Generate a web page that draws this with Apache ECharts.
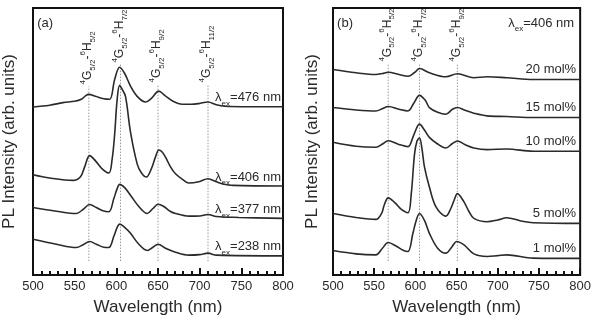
<!DOCTYPE html>
<html><head><meta charset="utf-8">
<script src="https://cdn.jsdelivr.net/npm/echarts@6/dist/echarts.min.js"></script>
<style>html,body{margin:0;padding:0;background:#fff}#c{width:594px;height:321px}</style>
</head><body><div id="c"></div>
<script>
const FONT = "'Liberation Sans', Arial, sans-serif";
const INK = '#2a2a2a';

// ---------- Panel (a): excitation wavelengths ----------
const exNamesA = ['476', '406', '377', '238'];
const ex476 = [[500,169.3],[520,171],[536,173.7],[550,175],[558,177],[563,180.5],[567,182],[575,180],[585,177.5],[592,177],[598,197],[604,209.3],[610,203],[617,190.3],[625,180],[635,174.3],[642,178],[651,185.3],[658,181],[668,175],[679,172],[690,172],[699,172.7],[710,174.3],[720,171.5],[730,170],[760,169.5],[800,169.5]];
const ex406 = [[500,101],[520,97.7],[548,95.3],[557,99],[562,109],[568,120.3],[575,115],[583,107],[591,102.7],[595,117],[598,142],[601,177],[604,191],[607,187],[611,180],[617,144],[625,112],[630,103],[636,98.7],[642,107],[647,119],[651,126],[655,124],[659,118.7],[665,109],[671,102],[680,96],[687,92.7],[699,94],[710,97],[720,94],[727,92],[740,90.3],[800,89.7]];
const ex377 = [[500,68],[528,64.3],[552,62],[560,66],[568,71],[576,68],[583,65],[591,63.7],[597,77],[601,87],[604,91.3],[610,88],[617,80.3],[627,69],[637,62],[644,67],[650,71.3],[657,69],[665,64],[671,62],[687,59.3],[700,59.5],[710,61],[720,59],[747,58],[800,57]];
const ex238 = [[500,36],[528,31],[552,27.7],[560,30.5],[568,33.7],[576,31],[585,28],[591,27.7],[597,39],[601,48],[604,51.3],[610,48],[617,42],[627,31],[637,24.7],[644,28],[650,31],[659,27],[671,23],[687,20],[700,20.5],[710,22],[720,20],[800,19.3]];
const seriesA = [ex476, ex406, ex377, ex238];
const transA = [567, 605, 650, 710];
const transLabelsA = ['5/2', '7/2', '9/2', '11/2'];
const transTopA = [190, 212, 192, 192];

// ---------- Panel (b): concentrations ----------
const concNames = ['20 mol%', '15 mol%', '10 mol%', '5 mol%', '1 mol%'];
const c20 = [[500,207],[528,203.7],[552,202],[560,203],[567,204.3],[580,202],[591,200.3],[599,204],[605,208],[617,203.7],[637,199.7],[651,202.7],[671,198.7],[687,199.7],[711,198.7],[743,197],[800,197]];
const c15 = [[500,168.7],[528,166.3],[552,165.3],[560,167.5],[567,169.7],[580,167],[591,165.3],[598,173],[605,181],[612,176],[617,168.7],[627,164],[637,162],[645,167],[651,168.7],[660,166],[671,163],[687,160.3],[711,159.7],[743,158.7],[800,158.7]];
const c10 = [[500,133.7],[528,129.7],[552,128.7],[560,132],[567,135.3],[580,131.5],[591,129.3],[598,141],[605,152],[611,146],[617,138.7],[627,132],[637,128],[645,132.5],[651,135],[660,131.5],[671,128],[687,126.3],[711,127],[743,124.7],[800,124.7]];
const c5 = [[500,62],[528,58],[552,56],[559,62],[562,70],[567,77.7],[575,73],[583,66],[591,62.7],[595,82],[599,122],[602,135],[605,138],[608,127],[611,109],[617,88.7],[625,68.7],[637,59.3],[643,67],[647,75.3],[651,82],[659,73.7],[665,64],[671,57],[687,53.7],[700,55.5],[711,57.7],[727,54.7],[743,52.7],[800,52]];
const c1 = [[500,24.7],[528,21.3],[552,20.3],[560,27],[567,32.7],[577,29],[585,25],[591,23.7],[597,42],[601,55],[605,62],[611,55],[617,42],[627,27],[637,22],[644,28],[650,33.7],[659,30.3],[671,21.3],[687,18.7],[700,19.5],[711,20.3],[743,17],[800,16.7]];
const seriesB = [c20, c15, c10, c5, c1];
const transB = [567, 605, 651];
const transLabelsB = ['5/2', '7/2', '9/2'];
const transTopB = [213, 213, 213];
const dotBottom = 14;

const xMin = 500, xMax = 800, xStep = 50;

const chart = echarts.init(document.getElementById('c'), null, {renderer: 'canvas'});

function mkX(gi) {
  return {
    gridIndex: gi, type: 'value', min: xMin, max: xMax, interval: xStep,
    name: 'Wavelength (nm)', nameLocation: 'middle', nameGap: 24,
    nameTextStyle: {fontFamily: FONT, fontSize: 17, color: INK},
    axisLine: {show: true, lineStyle: {color: '#111', width: 2}},
    axisTick: {show: true, inside: true, length: 7, lineStyle: {color: '#111', width: 2}},
    minorTick: {show: true, splitNumber: 5, length: 4, lineStyle: {color: '#111', width: 2}},
    axisLabel: {fontFamily: FONT, fontSize: 13, color: INK, margin: 5},
    splitLine: {show: false}
  };
}
function mkY(gi, gap) {
  return {
    gridIndex: gi, type: 'value', min: 0, max: 269,
    name: 'PL Intensity (arb. units)', nameLocation: 'middle', nameGap: gap,
    nameTextStyle: {fontFamily: FONT, fontSize: 17, color: INK},
    axisLine: {show: true, lineStyle: {color: '#111', width: 2}},
    axisTick: {show: false}, axisLabel: {show: false}, splitLine: {show: false}
  };
}

const series = [];
function addDots(gi, list, tops) {
  list.forEach((w, i) => {
    series.push({type: 'line', xAxisIndex: gi, yAxisIndex: gi, data: [[w, dotBottom], [w, tops[i]]],
      symbol: 'none', silent: true, z: 1,
      lineStyle: {color: '#9a9a9a', width: 1, type: [1.5, 1.5]}});
  });
}
addDots(0, transA, transTopA);
addDots(1, transB, transTopB);
seriesA.forEach((d) => series.push({type: 'line', xAxisIndex: 0, yAxisIndex: 0, data: d, symbol: 'none', smooth: 0.35, z: 3,
  lineStyle: {color: INK, width: 1.6}}));
seriesB.forEach((d) => series.push({type: 'line', xAxisIndex: 1, yAxisIndex: 1, data: d, symbol: 'none', smooth: 0.35, z: 3,
  lineStyle: {color: INK, width: 1.6}}));

chart.setOption({
  animation: false,
  grid: [
    {left: 33, top: 8, width: 250, height: 269, show: true, borderColor: '#111', borderWidth: 2},
    {left: 333, top: 8, width: 249, height: 269, show: true, borderColor: '#111', borderWidth: 2}
  ],
  xAxis: [mkX(0), mkX(1)],
  yAxis: [mkY(0, 15), mkY(1, 12)],
  series: series
});

// ---------- text annotations anchored in data coordinates ----------
const graphics = [];
function P(gi, x, y) { return chart.convertToPixel({xAxisIndex: gi, yAxisIndex: gi}, [x, y]); }
const richBase = {
  n: {fontFamily: FONT, fontSize: 13, color: INK, lineHeight: 20},
  s: {fontFamily: FONT, fontSize: 8, color: INK, verticalAlign: 'bottom'},
  t: {fontFamily: FONT, fontSize: 12, color: INK, lineHeight: 18},
  sp: {fontFamily: FONT, fontSize: 8, color: INK, verticalAlign: 'top'},
  sb: {fontFamily: FONT, fontSize: 8, color: INK, verticalAlign: 'bottom'}
};
function addText(x, y, text, align, rot) {
  graphics.push({type: 'text', x: x, y: y, rotation: rot || 0, z: 10,
    style: {text: text, rich: richBase, align: align, verticalAlign: 'middle', fill: INK}});
}
// panel tags
addText(P(0, 505, 0)[0], 23, '{n|(a)}', 'left');
addText(P(1, 505, 0)[0], 23, '{n|(b)}', 'left');
// excitation labels
seriesA.forEach((d, i) => {
  const p = P(0, 800, d[d.length - 1][1]);
  addText(p[0] - 2, p[1] - 9, '{n|λ}{s|ex}{n|=' + exNamesA[i] + ' nm}', 'right');
});
{
  const p = P(1, 800, 0);
  addText(p[0] - 6, 23, '{n|λ}{s|ex}{n|=406 nm}', 'right');
}
seriesB.forEach((d, i) => {
  const p = P(1, 800, d[d.length - 1][1]);
  addText(p[0] - 4, p[1] - 10, '{n|' + concNames[i] + '}', 'right');
});
// transition labels (rotated)
function trans(gi, w, top, sub) {
  const p = P(gi, w, top);
  addText(p[0] - 1, p[1] - 2, '{sp|4}{t|G}{sb|5/2}{t|-}{sp|6}{t|H}{sb|' + sub + '}', 'left', Math.PI / 2);
}
transA.forEach((w, i) => trans(0, w, transTopA[i], transLabelsA[i]));
transB.forEach((w, i) => trans(1, w, transTopB[i], transLabelsB[i]));

chart.setOption({graphic: graphics});
</script></body></html>
